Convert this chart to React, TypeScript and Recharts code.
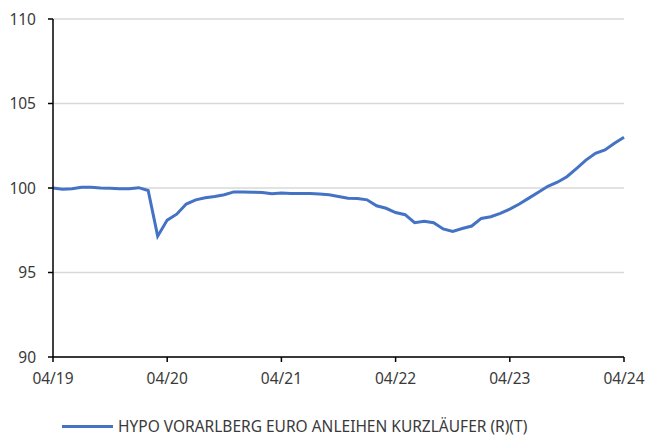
import { LineChart, Line, XAxis, YAxis, CartesianGrid, Legend } from "recharts";

const seriesName = "HYPO VORARLBERG EURO ANLEIHEN KURZLÄUFER (R)(T)";

// monthly, 04/19 .. 04/24
const values = [
  100.0, 99.93, 99.95, 100.05, 100.05, 100.0, 99.98, 99.95, 99.95, 100.02,
  99.85, 97.15, 98.1, 98.45, 99.05, 99.3, 99.42, 99.5, 99.6, 99.77,
  99.76, 99.75, 99.74, 99.66, 99.7, 99.68, 99.67, 99.68, 99.65, 99.6,
  99.5, 99.4, 99.38, 99.3, 98.95, 98.8, 98.55, 98.42, 97.95, 98.03,
  97.95, 97.58, 97.43, 97.6, 97.75, 98.2, 98.3, 98.5, 98.75, 99.05,
  99.4, 99.75, 100.1, 100.34, 100.67, 101.15, 101.65, 102.05, 102.25, 102.65,
  103.0,
];

const months: string[] = [];
for (let i = 0; i < values.length; i++) {
  const m = ((3 + i) % 12) + 1;
  const y = 19 + Math.floor((3 + i) / 12);
  months.push(`${String(m).padStart(2, "0")}/${y}`);
}

const xTicks = ["04/19", "04/20", "04/21", "04/22", "04/23", "04/24"];
const yTicks = [90, 95, 100, 105, 110];

const data = months.map((month, i) => ({ month, value: values[i] }));

const font = "'Noto Sans', sans-serif";
const tickStyle = { fill: "#3a3a3a", fontSize: 15.5, fontFamily: font };

function LegendContent() {
  return (
    <div
      style={{
        height: 50,
        display: "flex",
        alignItems: "flex-end",
        paddingLeft: 62,
        fontFamily: font,
        fontSize: 15.5,
        color: "#3a3a3a",
      }}
    >
      <div style={{ display: "flex", alignItems: "center" }}>
        <span
          style={{ display: "inline-block", width: 51, height: 3, background: "#4472c4", marginRight: 5 }}
        />
        <span>{seriesName}</span>
      </div>
    </div>
  );
}

export default function App() {
  return (
    <div style={{ position: "absolute", left: 0, top: 0, background: "#fff" }}>
      <LineChart
        width={649}
        height={437}
        data={data}
        margin={{ top: 19, right: 25, left: 0, bottom: 0 }}
      >
        <CartesianGrid vertical={false} stroke="#d9d9d9" strokeWidth={1.5} />
        <XAxis
          dataKey="month"
          ticks={xTicks}
          interval={0}
          height={30}
          tick={tickStyle}
          tickSize={5}
          tickMargin={11}
          stroke="#000"
          strokeWidth={1.5}
        />
        <YAxis
          domain={[90, 110]}
          ticks={yTicks}
          width={53}
          tick={tickStyle}
          tickSize={5}
          tickMargin={12}
          stroke="#000"
          strokeWidth={1.5}
        />
        <Legend verticalAlign="bottom" height={50} content={<LegendContent />} wrapperStyle={{ left: 0, width: 649 }} />
        <Line
          type="linear"
          dataKey="value"
          name={seriesName}
          stroke="#4472c4"
          strokeWidth={3}
          dot={false}
          isAnimationActive={false}
        />
      </LineChart>
    </div>
  );
}
